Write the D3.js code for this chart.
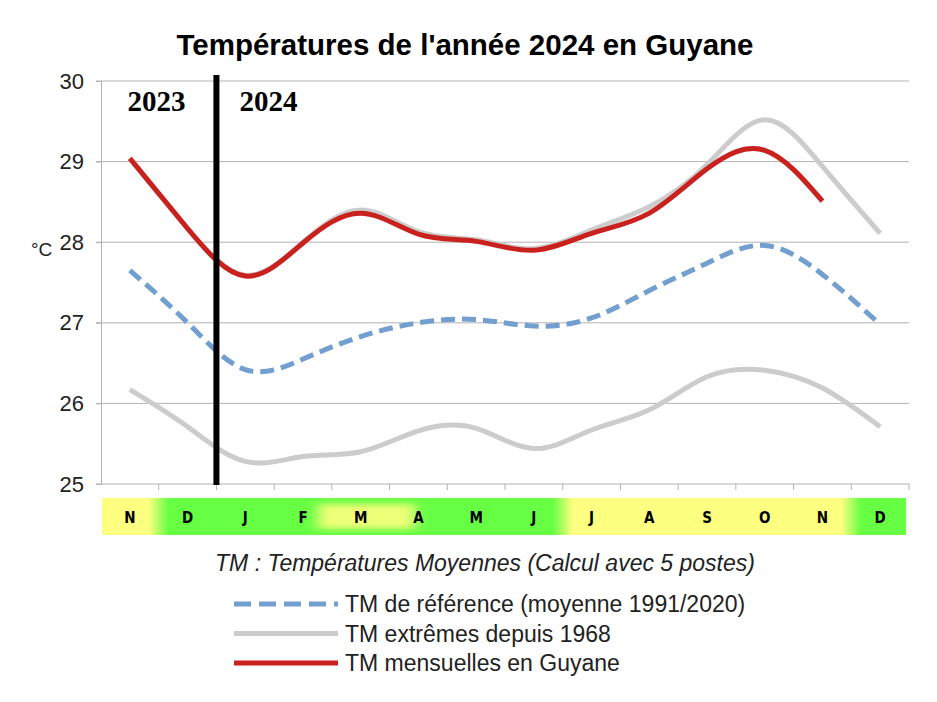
<!DOCTYPE html>
<html>
<head>
<meta charset="utf-8">
<script src="https://cdn.jsdelivr.net/npm/d3@7"></script>
<style>
  body { margin: 0; background: #fff; }
  text { font-family: "Liberation Sans", Arial, sans-serif; }
</style>
</head>
<body>
<div id="chart"></div>
<script>
// mois affichés (novembre 2023 -> décembre 2024)
const mois = ["N", "D", "J", "F", "M", "A", "M", "J", "J", "A", "S", "O", "N", "D"];
// saison de chaque mois dans le bandeau : y = sèche (jaune), g = humide (vert), m = petit été de mars
const saison = ["y", "g", "g", "g", "m", "g", "g", "g", "y", "y", "y", "y", "y", "g"];

// TM de référence (moyenne 1991/2020)
const tmReference = [27.65, 27.0, 26.42, 26.55, 26.83, 27.0, 27.04, 26.96, 27.06, 27.4, 27.74, 27.96, 27.6, 26.98];
// TM extrêmes depuis 1968 (max et min)
const tmMax = [29.04, 28.17, 27.59, 28.0, 28.4, 28.13, 28.03, 27.92, 28.15, 28.44, 28.96, 29.52, 28.94, 28.11];
const tmMin = [26.17, 25.71, 25.28, 25.34, 25.4, 25.66, 25.69, 25.44, 25.67, 25.92, 26.33, 26.41, 26.19, 25.71];
// TM mensuelles en Guyane (nov 2023 -> nov 2024)
const tmGuyane = [29.04, 28.17, 27.58, 27.99, 28.36, 28.1, 28.01, 27.9, 28.11, 28.36, 28.91, 29.14, 28.51];

const yTicks = [25, 26, 27, 28, 29, 30];

const width = 937, height = 702;
const margin = {top: 81, right: 28, bottom: 218, left: 101};

const svg = d3.select("#chart").append("svg")
    .attr("width", width)
    .attr("height", height);

const x = d3.scaleBand()
    .domain(d3.range(mois.length))
    .range([margin.left, width - margin.right]);

const y = d3.scaleLinear()
    .domain([25, 30])
    .range([height - margin.bottom, margin.top]);

const xc = i => x(i) + x.bandwidth() / 2;

// titre
svg.append("text")
    .attr("x", 465)
    .attr("y", 55)
    .attr("text-anchor", "middle")
    .style("font-size", "29.5px")
    .style("font-weight", "bold")
    .text("Températures de l'année 2024 en Guyane");

// grille horizontale
svg.append("g")
    .selectAll("line")
    .data(yTicks)
    .join("line")
    .attr("x1", margin.left - 5)
    .attr("x2", width - margin.right)
    .attr("y1", d => y(d))
    .attr("y2", d => y(d))
    .attr("stroke", "#b3b3b3")
    .attr("stroke-width", 1);

// axe y
const axeY = svg.append("g")
    .attr("transform", "translate(" + margin.left + ",0)")
    .call(d3.axisLeft(y).tickValues(yTicks).tickSize(5).tickFormat(d3.format("d")));
axeY.select(".domain").attr("stroke", "#b3b3b3");
axeY.selectAll(".tick line").attr("stroke", "#b3b3b3");
axeY.selectAll(".tick text")
    .attr("x", -17)
    .style("font-size", "22px")
    .style("font-family", "'Liberation Sans', Arial, sans-serif")
    .attr("fill", "#222");

svg.append("text")
    .attr("x", 31)
    .attr("y", 256)
    .style("font-size", "19px")
    .attr("fill", "#222")
    .text("°C");

// petites graduations en bas
const yBas = y(25);
svg.append("g")
    .selectAll("line")
    .data(d3.range(1, mois.length + 1))
    .join("line")
    .attr("x1", i => x.range()[0] + i * x.step())
    .attr("x2", i => x.range()[0] + i * x.step())
    .attr("y1", yBas)
    .attr("y2", yBas + 6)
    .attr("stroke", "#b3b3b3");

// bandeau des saisons
const couleurs = {y: "#fdff80", g: "#66ff44", m: "#66ff44"};
const defs = svg.append("defs");
const bandX0 = x.range()[0] + 1, bandX1 = x.range()[1] - 3;
const grad = defs.append("linearGradient")
    .attr("id", "saisons")
    .attr("gradientUnits", "userSpaceOnUse")
    .attr("x1", bandX0).attr("x2", bandX1)
    .attr("y1", 0).attr("y2", 0);
saison.forEach((s, i) => {
    const a = Math.max(x(i) + 10, bandX0), b = Math.min(x(i) + x.step() - 10, bandX1);
    grad.append("stop").attr("offset", (a - bandX0) / (bandX1 - bandX0)).attr("stop-color", couleurs[s]);
    grad.append("stop").attr("offset", (b - bandX0) / (bandX1 - bandX0)).attr("stop-color", couleurs[s]);
});

const bandTop = 498, bandH = 37;
svg.append("rect")
    .attr("x", bandX0)
    .attr("y", bandTop)
    .attr("width", bandX1 - bandX0)
    .attr("height", bandH)
    .attr("fill", "url(#saisons)");

defs.append("filter").attr("id", "flou")
    .attr("x", "-30%").attr("y", "-50%").attr("width", "160%").attr("height", "200%")
    .append("feGaussianBlur").attr("stdDeviation", "7,3");

svg.append("g")
    .selectAll("rect")
    .data(saison.map((s, i) => ({s, i})).filter(d => d.s === "m"))
    .join("rect")
    .attr("x", d => x(d.i) - 14)
    .attr("y", bandTop + 6)
    .attr("width", x.step() + 40)
    .attr("height", bandH - 12)
    .attr("fill", "#eeff78")
    .attr("filter", "url(#flou)");

svg.append("g")
    .selectAll("text")
    .data(mois)
    .join("text")
    .attr("x", (d, i) => xc(i))
    .attr("y", 523)
    .attr("text-anchor", "middle")
    .style("font-size", "15px")
    .style("font-weight", "bold")
    .style("font-family", "'DejaVu Sans Condensed', 'Liberation Sans Narrow', sans-serif")
    .text(d => d);

// courbes
const ligne = d3.line()
    .x((d, i) => xc(i))
    .y(d => y(d))
    .curve(d3.curveNatural);

svg.append("path")
    .attr("d", ligne(tmMin))
    .attr("fill", "none")
    .attr("stroke", "#cccccc")
    .attr("stroke-width", 5);

svg.append("path")
    .attr("d", ligne(tmMax))
    .attr("fill", "none")
    .attr("stroke", "#cccccc")
    .attr("stroke-width", 5);

svg.append("path")
    .attr("d", ligne(tmReference))
    .attr("fill", "none")
    .attr("stroke", "#729fcf")
    .attr("stroke-width", 5)
    .attr("stroke-dasharray", "14,7");

svg.append("path")
    .attr("d", ligne(tmGuyane))
    .attr("fill", "none")
    .attr("stroke", "#c9211e")
    .attr("stroke-width", 5);

// séparation des années
const xAnnee = x.range()[0] + 2 * x.step();
svg.append("line")
    .attr("x1", xAnnee).attr("x2", xAnnee)
    .attr("y1", 75).attr("y2", yBas + 1)
    .attr("stroke", "#000")
    .attr("stroke-width", 6);

svg.selectAll(".annee")
    .data([{t: "2023", x: xAnnee - 60}, {t: "2024", x: xAnnee + 52}])
    .join("text")
    .attr("class", "annee")
    .attr("x", d => d.x)
    .attr("y", 111)
    .attr("text-anchor", "middle")
    .style("font-family", "'Liberation Serif', 'Times New Roman', serif")
    .style("font-weight", "bold")
    .style("font-size", "29px")
    .text(d => d.t);

// sous-titre
svg.append("text")
    .attr("x", 485)
    .attr("y", 571)
    .attr("text-anchor", "middle")
    .style("font-size", "23px")
    .style("font-style", "italic")
    .attr("fill", "#222")
    .text("TM : Températures Moyennes (Calcul avec 5 postes)");

// légende
const legende = [
    {nom: "TM de référence (moyenne 1991/2020)", couleur: "#729fcf", tirets: "17,8"},
    {nom: "TM extrêmes depuis 1968", couleur: "#cccccc", tirets: null},
    {nom: "TM mensuelles en Guyane", couleur: "#c9211e", tirets: null}
];

const leg = svg.append("g")
    .selectAll("g")
    .data(legende)
    .join("g")
    .attr("transform", (d, i) => "translate(234," + (604 + i * 29.5) + ")");

leg.append("line")
    .attr("x1", 0).attr("x2", 104)
    .attr("stroke", d => d.couleur)
    .attr("stroke-width", 5)
    .attr("stroke-dasharray", d => d.tirets);

leg.append("text")
    .attr("x", 111)
    .attr("y", 8)
    .style("font-size", "23px")
    .attr("fill", "#222")
    .text(d => d.nom);
</script>
</body>
</html>
